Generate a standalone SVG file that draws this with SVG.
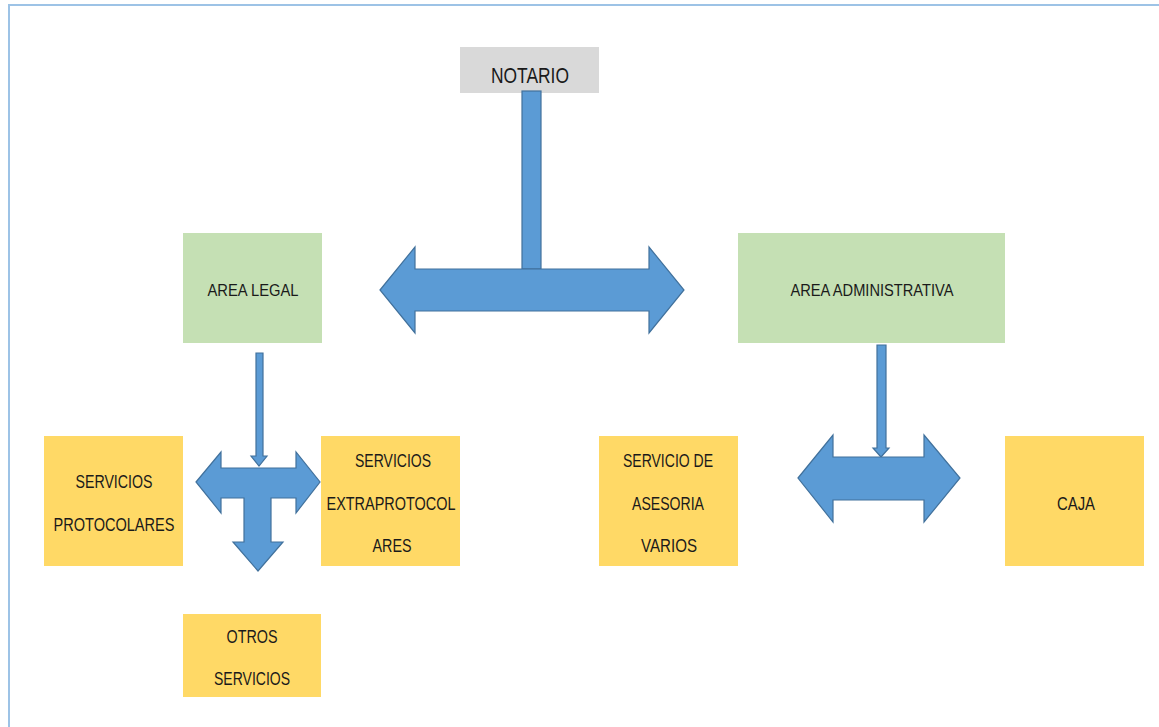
<svg xmlns="http://www.w3.org/2000/svg" width="1159" height="727" viewBox="0 0 1159 727">
<style>
.t{font-family:"Liberation Sans",Arial,sans-serif;fill:#1a1a1a;text-anchor:middle;font-size:18px}
.y{fill:#ffd966}
.g{fill:#c5e0b4}
.a{fill:#5b9bd5;stroke:#41719c;stroke-width:1.2;stroke-linejoin:miter}
</style>
<rect x="0" y="0" width="1159" height="727" fill="#ffffff"/>
<path d="M9,727 V5 H1159" fill="none" stroke="#9dc3e6" stroke-width="2"/>
<g id="notario">
<rect x="460" y="47" width="139" height="46" fill="#d9d9d9"/>
<text class="t" x="530" y="83" style="font-size:22px" textLength="78" lengthAdjust="spacingAndGlyphs">NOTARIO</text>
</g>
<g id="area-legal">
<rect class="g" x="183" y="233" width="139" height="110"/>
<text class="t" x="253" y="296" style="font-size:17px" textLength="91" lengthAdjust="spacingAndGlyphs">AREA LEGAL</text>
</g>
<g id="area-administrativa">
<rect class="g" x="738" y="233" width="267" height="110"/>
<text class="t" x="872" y="296" style="font-size:17px" textLength="163" lengthAdjust="spacingAndGlyphs">AREA ADMINISTRATIVA</text>
</g>
<g id="servicios-protocolares">
<rect class="y" x="44" y="436" width="139" height="130"/>
<text class="t" x="114" y="488" textLength="77" lengthAdjust="spacingAndGlyphs">SERVICIOS</text>
<text class="t" x="114" y="531" textLength="121" lengthAdjust="spacingAndGlyphs">PROTOCOLARES</text>
</g>
<g id="servicios-extraprotocolares">
<rect class="y" x="321" y="436" width="139" height="130"/>
<text class="t" x="393" y="467" textLength="76" lengthAdjust="spacingAndGlyphs">SERVICIOS</text>
<text class="t" x="391" y="510" textLength="129" lengthAdjust="spacingAndGlyphs">EXTRAPROTOCOL</text>
<text class="t" x="392" y="552" textLength="39" lengthAdjust="spacingAndGlyphs">ARES</text>
</g>
<g id="otros-servicios">
<rect class="y" x="183" y="614" width="138" height="83"/>
<text class="t" x="252" y="643" textLength="51" lengthAdjust="spacingAndGlyphs">OTROS</text>
<text class="t" x="252" y="685" textLength="76" lengthAdjust="spacingAndGlyphs">SERVICIOS</text>
</g>
<g id="servicio-asesoria">
<rect class="y" x="599" y="436" width="139" height="130"/>
<text class="t" x="668" y="467" textLength="90" lengthAdjust="spacingAndGlyphs">SERVICIO DE</text>
<text class="t" x="668" y="510" textLength="72" lengthAdjust="spacingAndGlyphs">ASESORIA</text>
<text class="t" x="669" y="552" textLength="56" lengthAdjust="spacingAndGlyphs">VARIOS</text>
</g>
<g id="caja">
<rect class="y" x="1005" y="436" width="139" height="130"/>
<text class="t" x="1076" y="510" textLength="38" lengthAdjust="spacingAndGlyphs">CAJA</text>
</g>
<g id="connectors">
<rect class="a" x="522" y="91" width="19" height="178"/>
<polygon class="a" points="380,290 415,247 415,269 649,269 649,247 684,290 649,333 649,311 415,311 415,333"/>
<polygon class="a" points="256,353 263,353 263,456 267,456 259,466 251,456 256,456"/>
<polygon class="a" points="196,482 221,452 221,468 296,468 296,452 320,482 296,513 296,498 271,498 271,542 283,542 258,571 233,542 244,542 244,498 221,498 221,513"/>
<polygon class="a" points="877,345 886,345 886,448 889,448 881,457 873,448 877,448"/>
<polygon class="a" points="798,478 833,435 833,457 924,457 924,435 960,478 924,522 924,500 833,500 833,522"/>
</g>
</svg>
